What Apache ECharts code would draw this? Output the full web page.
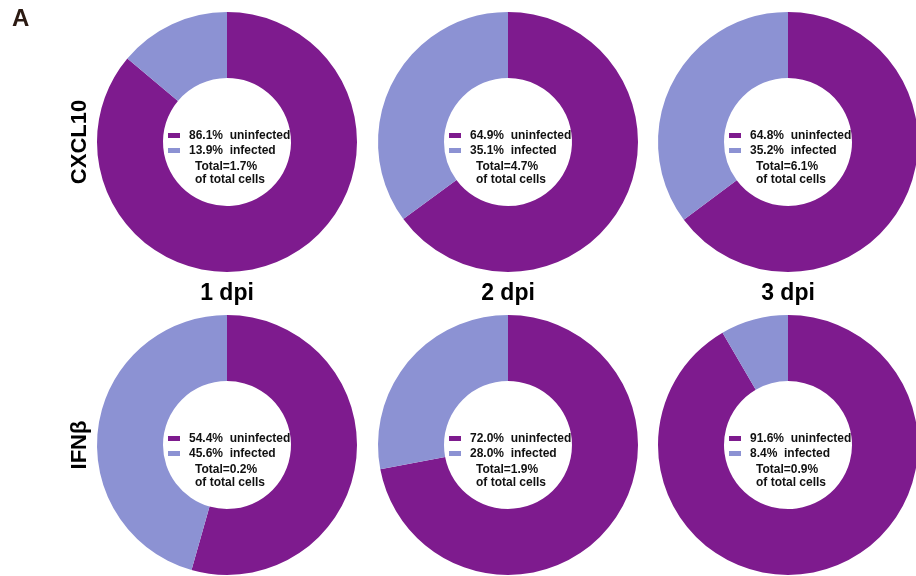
<!DOCTYPE html>
<html>
<head>
<meta charset="utf-8">
<script src="https://cdn.jsdelivr.net/npm/echarts@6/dist/echarts.min.js"></script>
<style>
  html, body { margin: 0; padding: 0; background: #ffffff; }
  #chart { width: 916px; height: 576px; }
</style>
</head>
<body>
<div id="chart"></div>
<script>
// Time points and marker genes
const days = ['1 dpi', '2 dpi', '3 dpi'];
const markers = ['CXCL10', 'IFNβ'];

// Share of marker-positive cells (%) that are uninfected / infected
const cxcl10Uninfected = [86.1, 64.9, 64.8];
const cxcl10Infected = [13.9, 35.1, 35.2];
const cxcl10Total = ['1.7', '4.7', '6.1'];

const ifnbUninfected = [54.4, 72.0, 91.6];
const ifnbInfected = [45.6, 28.0, 8.4];
const ifnbTotal = ['0.2', '1.9', '0.9'];

const rows = [
  { uninf: cxcl10Uninfected, inf: cxcl10Infected, total: cxcl10Total },
  { uninf: ifnbUninfected, inf: ifnbInfected, total: ifnbTotal }
];

// Layout
const colX = [227, 508, 788];
const rowY = [142, 445];
const rInner = 64, rOuter = 130;
const PURPLE = '#7e1b8e';
const BLUE = '#8c92d3';
const FONT = 'Liberation Sans, Arial, Helvetica, sans-serif';

const series = [];
const graphic = [];

rows.forEach((row, r) => {
  days.forEach((d, c) => {
    const cx = colX[c], cy = rowY[r];
    series.push({
      type: 'pie',
      center: [cx, cy],
      radius: [rInner, rOuter],
      startAngle: 90,
      clockwise: true,
      silent: true,
      animation: false,
      label: { show: false },
      labelLine: { show: false },
      itemStyle: { borderWidth: 0 },
      data: [
        { name: 'uninfected', value: row.uninf[c], itemStyle: { color: PURPLE } },
        { name: 'infected', value: row.inf[c], itemStyle: { color: BLUE } }
      ]
    });

    const txt = (x, y, s) => ({
      type: 'text', x: x, y: y, silent: true,
      style: { text: s, fill: '#111', font: 'bold 12px ' + FONT, textAlign: 'left', textVerticalAlign: 'middle' }
    });
    graphic.push(
      { type: 'rect', silent: true, shape: { x: cx - 59, y: cy - 9, width: 12, height: 5 }, style: { fill: PURPLE } },
      txt(cx - 38, cy - 6, row.uninf[c].toFixed(1) + '%  uninfected'),
      { type: 'rect', silent: true, shape: { x: cx - 59, y: cy + 6, width: 12, height: 5 }, style: { fill: BLUE } },
      txt(cx - 38, cy + 9, row.inf[c].toFixed(1) + '%  infected'),
      txt(cx - 32, cy + 25, 'Total=' + row.total[c] + '%'),
      txt(cx - 32, cy + 38, 'of total cells')
    );
  });
});

// Time point captions between the rows
days.forEach((d, c) => {
  graphic.push({
    type: 'text', x: colX[c], y: 294, silent: true,
    style: { text: d, fill: '#000', font: 'bold 23px ' + FONT, textAlign: 'center', textVerticalAlign: 'middle' }
  });
});

// Marker names, rotated
markers.forEach((m, r) => {
  graphic.push({
    type: 'text', x: 80, y: rowY[r], rotation: Math.PI / 2, silent: true,
    style: { text: m, fill: '#000', font: 'bold 22px ' + FONT, textAlign: 'center', textVerticalAlign: 'middle' }
  });
});

// Panel letter
graphic.push({
  type: 'text', x: 12, y: 19, silent: true,
  style: { text: 'A', fill: '#2b1a12', font: 'bold 24px ' + FONT, textAlign: 'left', textVerticalAlign: 'middle' }
});

const chart = echarts.init(document.getElementById('chart'), null, { renderer: 'canvas' });
chart.setOption({
  backgroundColor: '#ffffff',
  animation: false,
  series: series,
  graphic: graphic
});
</script>
</body>
</html>
